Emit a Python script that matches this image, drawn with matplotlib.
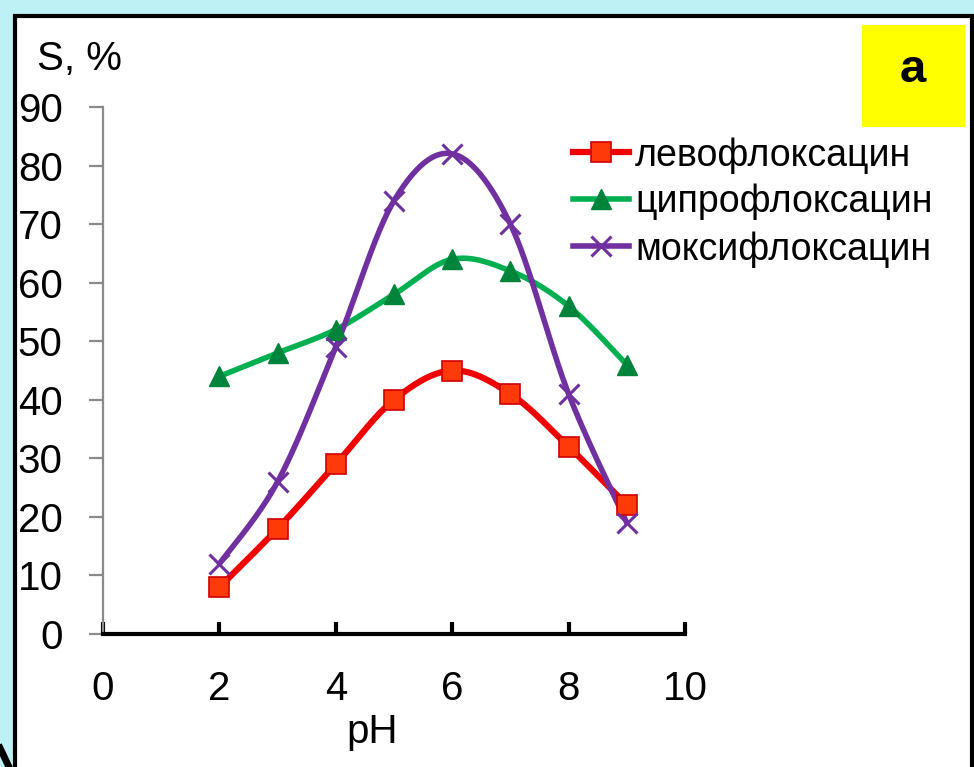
import numpy as np
import matplotlib
matplotlib.use("Agg")
import matplotlib.pyplot as plt
from matplotlib.patches import Rectangle
from matplotlib.lines import Line2D

plt.rcParams['font.family'] = ['Liberation Sans', 'DejaVu Sans']

ph = [2, 3, 4, 5, 6, 7, 8, 9]
levo = [8, 18, 29, 40, 45, 41, 32, 22]
cipro = [44, 48, 52, 58, 64, 62, 56, 46]
moxi = [12, 26, 49, 74, 82, 70, 41, 19]
names = ['левофлоксацин', 'ципрофлоксацин', 'моксифлоксацин']
xticks = [0, 2, 4, 6, 8, 10]
yticks = [0, 10, 20, 30, 40, 50, 60, 70, 80, 90]


def smooth(x, y, n=30):
    """Excel-like smoothed line (cubic Bezier with Catmull-Rom control points)."""
    x = np.asarray(x, float)
    y = np.asarray(y, float)
    P = np.column_stack([x, y])
    Pe = np.vstack([P[0], P, P[-1]])
    out = []
    t = np.linspace(0, 1, n)[:, None]
    for i in range(len(P) - 1):
        p0, p1, p2, p3 = Pe[i], Pe[i + 1], Pe[i + 2], Pe[i + 3]
        c1 = p1 + (p2 - p0) / 6.0
        c2 = p2 - (p3 - p1) / 6.0
        seg = ((1 - t) ** 3) * p1 + 3 * ((1 - t) ** 2) * t * c1 + 3 * (1 - t) * t ** 2 * c2 + t ** 3 * p2
        out.append(seg if i == 0 else seg[1:])
    s = np.vstack(out)
    return s[:, 0], s[:, 1]


W, H = 974, 767
fig = plt.figure(figsize=(W / 100, H / 100), dpi=100)
fig.patch.set_facecolor('#BEF1F5')

# white panel with black frame
panel = Rectangle((15 / W, -0.05), (972 - 15) / W, (H - 16) / H + 0.05,
                  transform=fig.transFigure, facecolor='white',
                  edgecolor='black', linewidth=3, zorder=-5)
fig.patches.append(panel)
fig.lines.append(Line2D([0 / W, 9 / W], [(H - 748) / H, (H - 767) / H],
                        transform=fig.transFigure, color='black', linewidth=5, zorder=-4))

box = Rectangle((862 / W, (H - 127) / H), 103 / W, 102 / H, transform=fig.transFigure,
                facecolor='#FFFF00', edgecolor='none', zorder=-4)
fig.patches.append(box)

ax = fig.add_axes([103 / W, (H - 634) / H, (685 - 103) / W, (634 - 107) / H])
ax.set_facecolor('none')
ax.set_xlim(0, 10)
ax.set_ylim(0, 90)

series = [
    (levo, dict(color='#F00000', lw=4.5), dict(marker='s', ms=15, mfc='#FF3A0A', mec='#D00000', mew=1.2)),
    (cipro, dict(color='#00B050', lw=4.0), dict(marker='^', ms=15, mfc='#00833A', mec='#00833A', mew=1.0)),
    (moxi, dict(color='#7030A0', lw=4.0), dict(marker='x', ms=15, mfc='none', mec='#7030A0', mew=2.2)),
]
handles = []
for vals, lstyle, mstyle in series:
    sx, sy = smooth(ph, vals)
    ax.plot(sx, sy, solid_capstyle='round', zorder=3, clip_on=False, **lstyle)
    ax.plot(ph, vals, linestyle='none', zorder=4, clip_on=False, **mstyle)
    handles.append(Line2D([], [], **lstyle, **mstyle))

for s in ['top', 'right']:
    ax.spines[s].set_visible(False)
ax.spines['left'].set_color('#8A8A8A')
ax.spines['left'].set_linewidth(1.6)
ax.spines['bottom'].set_color('black')
ax.spines['bottom'].set_linewidth(3)

ax.set_xticks(xticks)
ax.set_yticks(yticks)
ax.tick_params(axis='y', direction='out', length=10, width=1.6, color='#8A8A8A',
               pad=19, labelsize=29, labelcolor='black')
ax.tick_params(axis='x', direction='in', length=9, width=3, color='black',
               pad=26, labelsize=29, labelcolor='black')

fig.text(37 / W, (H - 70) / H, 'S, %', fontsize=29, ha='left', va='baseline')
fig.text(372 / W, (H - 743) / H, 'pH', fontsize=29, ha='center', va='baseline')

leg = fig.legend(handles, names, loc='upper left', bbox_to_anchor=(573 / W, (H - 137) / H),
                 frameon=False, fontsize=27, handlelength=1.5, handletextpad=0.15,
                 labelspacing=0.28, borderaxespad=0, borderpad=0)

fig.text(913 / W, (H - 82) / H, 'a', fontsize=34, fontweight='bold', ha='center', va='baseline')

fig.savefig('out.png', dpi=100, facecolor=fig.get_facecolor())
